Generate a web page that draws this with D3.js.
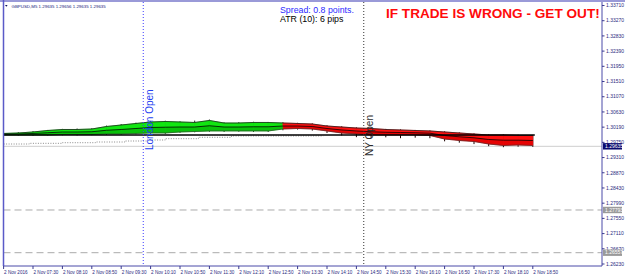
<!DOCTYPE html>
<html>
<head>
<meta charset="utf-8">
<script src="https://cdn.jsdelivr.net/npm/d3@7"></script>
<style>
body { margin: 0; background: #fff; }
svg { display: block; font-family: "Liberation Sans", Arial, sans-serif; }
</style>
</head>
<body>
<div id="chart"></div>
<script>
// M5 bars, 2 Nov 2016 06:50 .. 18:50 (bar index 0..144)
const timeLabels = ['2 Nov 2016', '2 Nov 07:30', '2 Nov 08:10', '2 Nov 08:50', '2 Nov 09:30',
    '2 Nov 10:10', '2 Nov 10:50', '2 Nov 11:30', '2 Nov 12:10', '2 Nov 12:50', '2 Nov 13:30',
    '2 Nov 14:10', '2 Nov 14:50', '2 Nov 15:30', '2 Nov 16:10', '2 Nov 16:50', '2 Nov 17:30',
    '2 Nov 18:10', '2 Nov 18:50'];
const timeLabelBars = [0, 8, 16, 24, 32, 40, 48, 56, 64, 72, 80, 88, 96, 104, 112, 120, 128, 136, 144];

const priceTicks = [1.33710, 1.33270, 1.32830, 1.32390, 1.31950, 1.31510, 1.31070, 1.30630, 1.30190,
    1.29750, 1.29310, 1.28870, 1.28430, 1.27990, 1.27550, 1.27110, 1.26670, 1.26230];

// ribbon sampled every 4 bars (20 min)
const ribbonBars = [0, 4, 8, 12, 16, 20, 24, 28, 32, 36, 40, 44, 48, 52, 56, 60, 64, 68, 72, 76,
    80, 84, 88, 92, 96, 100, 104, 108, 112, 116, 120, 124, 128, 132, 136, 140, 144];
const ribbonHi = [1.30007, 1.30021, 1.30050, 1.30093, 1.30122, 1.30122, 1.30136, 1.30209, 1.30252,
    1.30296, 1.30339, 1.30354, 1.30339, 1.30325, 1.30383, 1.30310, 1.30310, 1.30325, 1.30325, 1.30310,
    1.30296, 1.30281, 1.30223, 1.30194, 1.30165, 1.30151, 1.30122, 1.30108, 1.30093, 1.30079, 1.30050,
    1.30021, 1.29992, 1.29963, 1.29963, 1.29949, 1.29949];
const ribbonMid = [1.29985, 1.29992, 1.30007, 1.30028, 1.30050, 1.30050, 1.30057, 1.30100, 1.30122,
    1.30151, 1.30180, 1.30188, 1.30194, 1.30194, 1.30230, 1.30194, 1.30194, 1.30201, 1.30201, 1.30223,
    1.30223, 1.30209, 1.30151, 1.30108, 1.30079, 1.30057, 1.30042, 1.30035, 1.30028, 1.30015, 1.29949,
    1.29911, 1.29882, 1.29833, 1.29813, 1.29813, 1.29804];
const ribbonLo = [1.29963, 1.29963, 1.29963, 1.29963, 1.29978, 1.29978, 1.29978, 1.29992, 1.29992,
    1.30007, 1.30021, 1.30021, 1.30050, 1.30064, 1.30079, 1.30079, 1.30079, 1.30079, 1.30079, 1.30136,
    1.30151, 1.30136, 1.30079, 1.30021, 1.29992, 1.29963, 1.29963, 1.29963, 1.29963, 1.29949, 1.29847,
    1.29804, 1.29774, 1.29702, 1.29659, 1.29673, 1.29659];
const wickHi = [1.30030, 1.30045, 1.30075, 1.30110, 1.30140, 1.30150, 1.30160, 1.30235, 1.30280,
    1.30320, 1.30370, 1.30375, 1.30360, 1.30380, 1.30410, 1.30330, 1.30335, 1.30345, 1.30340, 1.30330,
    1.30315, 1.30300, 1.30245, 1.30215, 1.30185, 1.30170, 1.30140, 1.30125, 1.30110, 1.30095, 1.30070,
    1.30040, 1.30010, 1.29985, 1.29980, 1.29970, 1.29965];
const wickLo = [1.29940, 1.29945, 1.29940, 1.29950, 1.29955, 1.29950, 1.29958, 1.29970, 1.29975,
    1.29985, 1.30000, 1.29995, 1.30025, 1.30040, 1.30055, 1.30050, 1.30058, 1.30052, 1.30050, 1.30100,
    1.30120, 1.30090, 1.30020, 1.29950, 1.29900, 1.29880, 1.29895, 1.29870, 1.29885, 1.29870, 1.29780,
    1.29740, 1.29700, 1.29640, 1.29610, 1.29625, 1.29620];
const ribbonTrend = ['u', 'u', 'u', 'u', 'u', 'u', 'u', 'u', 'u', 'u', 'u', 'u', 'u', 'u', 'u', 'u', 'u',
    'u', 'u', 'd', 'd', 'd', 'd', 'd', 'd', 'd', 'd', 'd', 'd', 'd', 'd', 'd', 'd', 'd', 'd', 'd', 'd'];

// trailing stop (dotted steps)
const stopBars = [0, 7, 16, 25, 33, 39, 44, 53, 62, 87];
const stopLevels = [1.29702, 1.29722, 1.29740, 1.29760, 1.29789, 1.29818, 1.29856, 1.29896, 1.29934, 1.29934];

const dayOpen = 1.29963;
const bid = 1.29635;
const orderLevels = [1.27793, 1.26557];
const londonBar = 38, nyBar = 98;

const W = 625, H = 276;
const plotL = 3.5, plotR = 602, plotT = 2, plotB = 266;

const svg = d3.select('#chart').append('svg')
    .attr('width', W).attr('height', H);

svg.append('rect').attr('width', W).attr('height', H).attr('fill', '#fff');

const x = d3.scaleLinear().domain([0, 144]).range([3.6, 532.8]);
const y = d3.scaleLinear().domain([1.26230, 1.33710]).range([264, 5.5]);

// order lines
svg.append('g').selectAll('line').data(orderLevels).join('line')
    .attr('x1', plotL).attr('x2', plotR)
    .attr('y1', d => y(d)).attr('y2', d => y(d))
    .attr('stroke', '#aaaaaa').attr('stroke-dasharray', '7,4');

// bid line
svg.append('line')
    .attr('x1', plotL).attr('x2', plotR)
    .attr('y1', y(bid)).attr('y2', y(bid))
    .attr('stroke', '#cfcfcf');

// trailing stop
const stopPts = stopBars.map((b, i) => [b, stopLevels[i]]);
svg.append('path')
    .attr('d', d3.line().x(d => x(d[0])).y(d => y(d[1])).curve(d3.curveStepAfter)(stopPts))
    .attr('fill', 'none').attr('stroke', '#8a8a8a')
    .attr('stroke-dasharray', '1,1.5');

// ribbon
const rib = ribbonBars.map((b, i) => ({
    b, hi: ribbonHi[i], mid: ribbonMid[i], lo: ribbonLo[i],
    wh: wickHi[i], wl: wickLo[i], t: ribbonTrend[i]
}));
const area = d3.area().x(d => x(d.b)).y0(d => y(d.lo)).y1(d => y(d.hi));
const areaLower = d3.area().x(d => x(d.b)).y0(d => y(d.lo)).y1(d => y(d.mid));

const segs = d3.pairs(rib);
const gRib = svg.append('g');

gRib.selectAll('line.wick').data(rib).join('line')
    .attr('class', 'wick')
    .attr('x1', d => x(d.b)).attr('x2', d => x(d.b))
    .attr('y1', d => y(d.wh)).attr('y2', d => y(d.wl))
    .attr('stroke', d => d.t === 'u' ? '#202020' : '#1a0000')
    .attr('stroke-width', 1);

gRib.selectAll('path.seg').data(segs).join('path')
    .attr('class', 'seg')
    .attr('d', d => area(d))
    .attr('fill', d => d[0].t === 'u' ? '#11e611' : '#ff1010')
    .attr('stroke', d => d[0].t === 'u' ? '#11e611' : '#ff1010')
    .attr('stroke-width', 0.6);

gRib.selectAll('path.segLo').data(segs).join('path')
    .attr('class', 'segLo')
    .attr('d', d => areaLower(d))
    .attr('fill', d => d[0].t === 'u' ? '#08b808' : '#e00000')
    .attr('opacity', 0.8);

const lineOf = key => d3.line().x(d => x(d.b)).y(d => y(d[key]));
[['hi', 0.9, '#1a1a1a'], ['mid', 0.9, '#000'], ['lo', 0.7, '#333']].forEach(([k, w, c]) => {
    gRib.append('path')
        .attr('d', lineOf(k)(rib))
        .attr('fill', 'none').attr('stroke', c)
        .attr('stroke-width', w).attr('opacity', 0.85);
});

// day open line
svg.append('line')
    .attr('x1', x(0)).attr('x2', x(144) + 2)
    .attr('y1', y(dayOpen)).attr('y2', y(dayOpen))
    .attr('stroke', '#000').attr('stroke-width', 1.3);

// session lines
svg.append('line')
    .attr('x1', x(londonBar)).attr('x2', x(londonBar))
    .attr('y1', plotT).attr('y2', plotB)
    .attr('stroke', '#3c3cff').attr('stroke-dasharray', '1,2');
svg.append('line')
    .attr('x1', x(nyBar)).attr('x2', x(nyBar))
    .attr('y1', plotT).attr('y2', plotB)
    .attr('stroke', '#333').attr('stroke-dasharray', '1,2');

svg.append('text')
    .attr('transform', `translate(${x(londonBar) + 10},150) rotate(-90)`)
    .attr('font-size', 10).attr('fill', '#2340f0')
    .text('London Open');
svg.append('text')
    .attr('transform', `translate(${x(nyBar) + 9.5},156) rotate(-90)`)
    .attr('font-size', 10).attr('fill', '#2a2a2a')
    .text('NY Open');

// info texts
svg.append('text').attr('x', 280).attr('y', 12.5)
    .attr('font-size', 8.8).attr('fill', '#2b2bff')
    .text('Spread: 0.8 points.');
svg.append('text').attr('x', 280).attr('y', 22)
    .attr('font-size', 8.8).attr('fill', '#000')
    .text('ATR (10): 6 pips');
svg.append('text').attr('x', 386).attr('y', 17.5)
    .attr('font-size', 13.6).attr('font-weight', 'bold').attr('fill', '#ff0a0a')
    .text('IF TRADE IS WRONG - GET OUT!');

// header
svg.append('path').attr('d', 'M5,5 L7.6,5 L6.3,6.8 Z').attr('fill', '#10105a');
svg.append('text').attr('x', 11.5).attr('y', 7.6)
    .attr('font-size', 4.4).attr('fill', '#20207a')
    .text('GBPUSD,M5  1.29635 1.29656 1.29635 1.29635');

// frame
svg.append('rect').attr('x', 0).attr('y', 0).attr('width', W).attr('height', 2)
    .attr('fill', '#9a9ad8');
svg.append('line').attr('x1', plotL).attr('x2', plotL).attr('y1', 0).attr('y2', plotB)
    .attr('stroke', '#5a5ac8').attr('stroke-width', 1.5);
svg.append('line').attr('x1', plotR).attr('x2', plotR).attr('y1', plotT).attr('y2', plotB)
    .attr('stroke', '#4a4aa8');
svg.append('line').attr('x1', plotL).attr('x2', plotR).attr('y1', plotB).attr('y2', plotB)
    .attr('stroke', '#4a4aa8');

// price axis
const gP = svg.append('g');
gP.selectAll('line').data(priceTicks).join('line')
    .attr('x1', plotR).attr('x2', plotR + 2.5)
    .attr('y1', d => y(d)).attr('y2', d => y(d))
    .attr('stroke', '#3a3a90');
gP.selectAll('text').data(priceTicks).join('text')
    .attr('x', plotR + 4).attr('y', d => y(d)).attr('dy', '0.35em')
    .attr('font-size', 5).attr('fill', '#2a2a80')
    .text(d => d.toFixed(5));

function priceBox(v, bg) {
    svg.append('rect').attr('x', plotR + 1).attr('y', y(v) - 3.2)
        .attr('width', 19).attr('height', 6.4).attr('fill', bg);
    svg.append('text').attr('x', plotR + 3).attr('y', y(v)).attr('dy', '0.35em')
        .attr('font-size', 5).attr('fill', '#fff').text(v.toFixed(5));
}
priceBox(bid, '#0a0a6e');
orderLevels.forEach(v => priceBox(v, '#9a9a9a'));

// time axis
const gT = svg.append('g');
gT.selectAll('line').data(timeLabelBars).join('line')
    .attr('x1', d => x(d)).attr('x2', d => x(d))
    .attr('y1', plotB).attr('y2', plotB + 3)
    .attr('stroke', '#3a3a90');
gT.selectAll('text').data(timeLabelBars).join('text')
    .attr('x', d => x(d) + 0.5).attr('y', 273.5)
    .attr('font-size', 4.6).attr('fill', '#2a2a80')
    .text((d, i) => timeLabels[i]);
</script>
</body>
</html>
